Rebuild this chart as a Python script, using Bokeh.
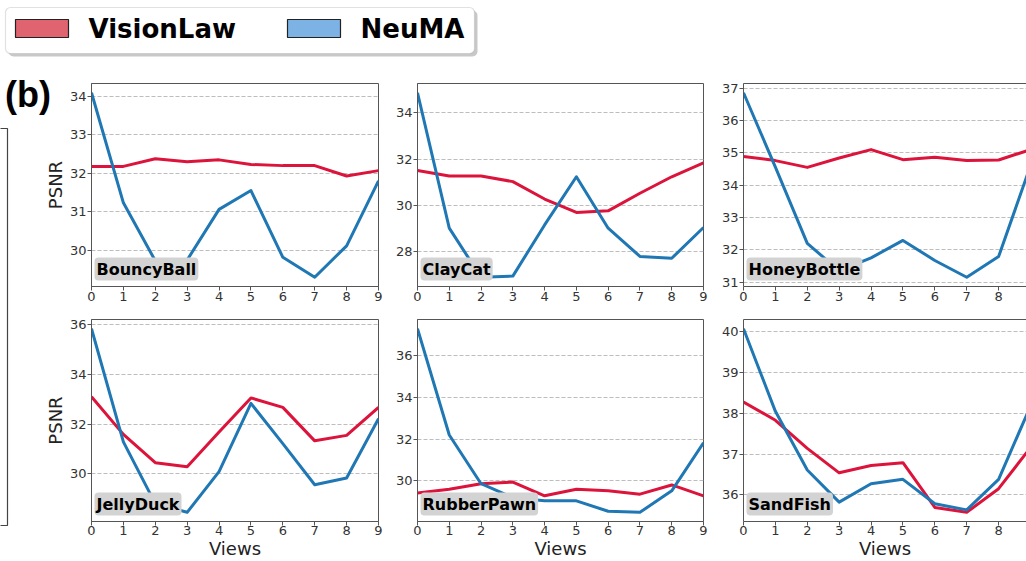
import math
from bokeh.plotting import figure
from bokeh.layouts import column, row
from bokeh.models import Range1d, FixedTicker, Label, LinearAxis, BoxAnnotation
from bokeh.embed import file_html
from bokeh.resources import INLINE
from bokeh.core.properties import value

# ---------------- data ----------------
views = [0, 1, 2, 3, 4, 5, 6, 7, 8, 9]
series_names = ["VisionLaw", "NeuMA"]
series_colors = ["#dc143c", "#1f77b4"]
legend_fill = ["#e0646f", "#7db2e4"]

objects = ["BouncyBall", "ClayCat", "HoneyBottle", "JellyDuck", "RubberPawn", "SandFish"]

bouncyball_visionlaw = [32.18, 32.18, 32.38, 32.30, 32.35, 32.23, 32.20, 32.20, 31.93, 32.07]
bouncyball_neuma = [34.10, 31.23, 29.72, 29.74, 31.06, 31.55, 29.81, 29.29, 30.11, 31.80]

claycat_visionlaw = [31.51, 31.27, 31.27, 31.03, 30.28, 29.70, 29.77, 30.53, 31.24, 31.84]
claycat_neuma = [34.87, 29.02, 26.90, 26.95, 29.16, 31.24, 29.02, 27.80, 27.72, 29.05]

honeybottle_visionlaw = [34.89, 34.76, 34.55, 34.84, 35.10, 34.79, 34.86, 34.76, 34.78, 35.10]
honeybottle_neuma = [36.86, 34.56, 32.20, 31.35, 31.75, 32.29, 31.67, 31.15, 31.79, 34.60]

jellyduck_visionlaw = [33.11, 31.59, 30.45, 30.29, 31.69, 33.06, 32.68, 31.33, 31.55, 32.68]
jellyduck_neuma = [35.85, 31.29, 28.80, 28.45, 30.09, 32.84, 31.22, 29.56, 29.83, 32.22]

rubberpawn_visionlaw = [29.42, 29.60, 29.87, 29.95, 29.29, 29.60, 29.53, 29.37, 29.81, 29.29]
rubberpawn_neuma = [37.29, 32.20, 29.87, 29.20, 29.05, 29.05, 28.55, 28.50, 29.53, 31.83]

sandfish_visionlaw = [38.28, 37.83, 37.14, 36.54, 36.72, 36.79, 35.69, 35.57, 36.15, 37.16]
sandfish_neuma = [40.08, 38.05, 36.61, 35.82, 36.27, 36.38, 35.78, 35.63, 36.38, 38.18]

bouncyball_ticks = [30, 31, 32, 33, 34]
claycat_ticks = [28, 30, 32, 34]
honeybottle_ticks = [31, 32, 33, 34, 35, 36, 37]
jellyduck_ticks = [30, 32, 34, 36]
rubberpawn_ticks = [30, 32, 34, 36]
sandfish_ticks = [36, 37, 38, 39, 40]

x_label = "Views"
y_label = "PSNR"
panel_tag = "(b)"

# ---------------- layout constants (page pixels) ----------------
FONT = "DejaVu Sans"
AX = "#555555"
W, H = 1026, 561
LEGEND_H = 60
SIDE_W = 66
ROWS = [(23, 203, 23), (10, 202, 40)]            # top border, frame height, bottom border
COLS = [(25, 287, 6), (33, 286, 6), (34, 283, 0)]  # left border, frame width, right border
FULL_FRAME_W = 287


def make_panel(r, c, name, vl, nm, ticks):
    top, fh, bottom = ROWS[r]
    left, fw, right = COLS[c]
    allv = vl + nm
    lo, hi = min(allv), max(allv)
    pad = 0.05 * (hi - lo)
    xend = 9 * fw / FULL_FRAME_W if c == 2 else 9
    p = figure(width=left + fw + right, height=top + fh + bottom,
               x_range=Range1d(0, xend), y_range=Range1d(lo - pad, hi + pad),
               output_backend="svg", toolbar_location=None,
               min_border_left=left, min_border_right=right,
               min_border_top=top, min_border_bottom=bottom)
    p.background_fill_color = "white"
    p.border_fill_color = "white"
    p.outline_line_color = AX if c < 2 else None
    p.outline_line_width = 1

    p.xaxis.ticker = FixedTicker(ticks=views)
    p.yaxis.ticker = FixedTicker(ticks=ticks)
    for ax in (p.xaxis, p.yaxis):
        ax.axis_line_color = AX
        ax.major_tick_line_color = AX
        ax.major_tick_out = 4
        ax.major_tick_in = 0
        ax.minor_tick_line_color = None
        ax.major_label_text_font = FONT
        ax.major_label_text_font_size = "13px"
        ax.major_label_text_color = "#333333"
        ax.major_label_standoff = 1
    if r == 1:
        p.xaxis.major_label_standoff = 0
        p.xaxis.axis_label = x_label
        p.xaxis.axis_label_text_font = FONT
        p.xaxis.axis_label_text_font_size = "18px"
        p.xaxis.axis_label_text_font_style = "normal"
        p.xaxis.axis_label_text_color = "#222222"
        p.xaxis.axis_label_standoff = 0
    if c == 2:
        top_ax = LinearAxis(ticker=FixedTicker(ticks=[]), axis_line_color=AX,
                            major_tick_out=0, major_tick_in=0, minor_tick_line_color=None,
                            major_label_text_font_size="0px", major_label_standoff=0)
        p.add_layout(top_ax, "above")

    p.xgrid.visible = False
    p.ygrid.grid_line_color = "#bdbdbd"
    p.ygrid.grid_line_dash = "4 2"
    p.ygrid.grid_line_width = 1

    for vals, col, nmn in zip((vl, nm), series_colors, series_names):
        p.line(views, vals, line_color=col, line_width=3, line_join="round", name=nmn)

    p.add_layout(Label(x=3, y=6, x_units="screen", y_units="screen", text=name,
                       text_font=FONT, text_font_size="16px", text_font_style="bold",
                       text_color="black", text_align="left", text_baseline="bottom",
                       background_fill_color="#d3d3d3", background_fill_alpha=1.0,
                       border_radius=4, padding=2))
    return p


def rounded_box(fig, left, right, top, bottom, **kw):
    try:
        box = BoxAnnotation(left=left, right=right, top=top, bottom=bottom,
                            border_radius=5, level="underlay", **kw)
        fig.add_layout(box)
    except Exception:
        fig.quad(left=left, right=right, top=top, bottom=bottom,
                 **{k: v for k, v in kw.items()})


# ---------------- legend strip ----------------
leg = figure(width=W, height=LEGEND_H, x_range=Range1d(0, W), y_range=Range1d(LEGEND_H, 0),
             output_backend="svg", toolbar_location=None, min_border=0,
             x_axis_type=None, y_axis_type=None)
leg.outline_line_color = None
leg.grid.visible = False
rounded_box(leg, 8, 477, 10, 56, fill_color="#9a9a9a", fill_alpha=0.55, line_color=None)
rounded_box(leg, 5, 474, 7, 53, fill_color="white", fill_alpha=1.0, line_color="#9a9a9a", line_width=1.2)
item_x = [15, 287]
leg.quad(left=item_x, right=[x + 53 for x in item_x], top=19, bottom=37,
         fill_color=legend_fill, line_color="#222222", line_width=1.2)
leg.text(x=[x + 73 for x in item_x], y=[28, 28], text=series_names,
         text_font=value("DejaVu Sans"), text_font_size=value("26px"), text_font_style=value("bold"),
         text_color="black", text_align="left", text_baseline="middle")

# ---------------- side strip: panel tag, y labels, edge of the cut-off panel ----------------
SIDE_H = H - LEGEND_H
side = figure(width=SIDE_W, height=SIDE_H, x_range=Range1d(0, SIDE_W), y_range=Range1d(H, LEGEND_H),
              output_backend="svg", toolbar_location=None, min_border=0,
              x_axis_type=None, y_axis_type=None)
side.outline_line_color = None
side.grid.visible = False
side.quad(left=-10, right=7, top=128, bottom=525, fill_color=None, line_color="#444444", line_width=1.2)
side.text(x=[4.5], y=[93.5], text=[panel_tag], text_font=value("Liberation Sans"),
          text_font_size=value("36px"), text_font_style=value("bold"), text_color="black",
          text_align="left", text_baseline="middle")
row_centers = [LEGEND_H + ROWS[0][0] + ROWS[0][1] / 2,
               LEGEND_H + sum(ROWS[0]) + ROWS[1][0] + ROWS[1][1] / 2]
side.text(x=[55, 55], y=row_centers, text=[y_label, y_label], angle=math.pi / 2,
          text_font=value(FONT), text_font_size=value("18px"), text_color="#222222",
          text_align="center", text_baseline="middle")

# ---------------- panels ----------------
vl_all = [bouncyball_visionlaw, claycat_visionlaw, honeybottle_visionlaw,
          jellyduck_visionlaw, rubberpawn_visionlaw, sandfish_visionlaw]
nm_all = [bouncyball_neuma, claycat_neuma, honeybottle_neuma,
          jellyduck_neuma, rubberpawn_neuma, sandfish_neuma]
tk_all = [bouncyball_ticks, claycat_ticks, honeybottle_ticks,
          jellyduck_ticks, rubberpawn_ticks, sandfish_ticks]

panels = [make_panel(i // 3, i % 3, objects[i], vl_all[i], nm_all[i], tk_all[i]) for i in range(6)]

p = column(leg, row(side, column(row(*panels[:3]), row(*panels[3:]))))

open("out.html", "w").write(file_html(p, INLINE))
